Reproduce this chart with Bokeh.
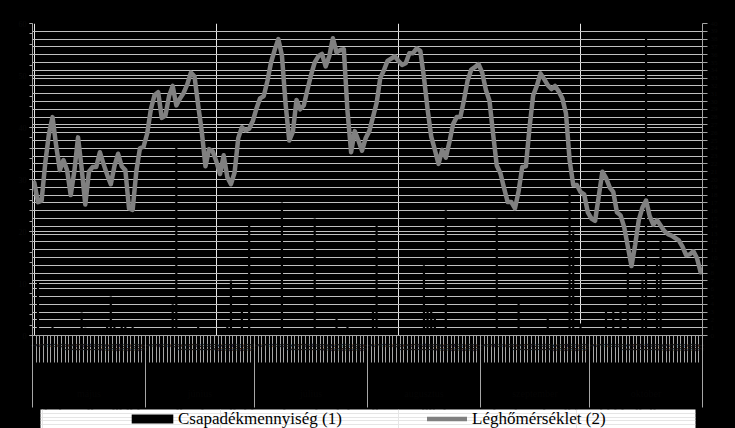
import math
from bokeh.plotting import figure
from bokeh.layouts import column
from bokeh.models import (LinearAxis, Range1d, FixedTicker, Grid, Legend, LegendItem,
                          ColumnDataSource)
from bokeh.embed import file_html
from bokeh.resources import INLINE

# ---- data -------------------------------------------------------------
month_names = ["május", "június", "július", "augusztus", "szeptember", "október"]
month_days = [31, 30, 31, 31, 30, 31]

# daily air temperature (°C), 1 May .. 31 Oct
temperature = [
    19.6, 17.1, 17.3, 22.1, 25.8, 28.0, 24.3, 21.2, 22.5, 21.2,
    18.0, 21.1, 25.4, 21.4, 16.8, 21.0, 21.6, 21.6, 23.5, 22.0,
    20.6, 19.4, 21.7, 23.3, 21.7, 21.2, 16.3, 16.1, 21.0, 24.0,
    24.2, 25.9, 29.0, 30.8, 31.2, 27.9, 28.2, 30.7, 32.0, 29.5,
    30.4, 31.1, 32.2, 33.7, 33.2, 29.5, 26.1, 21.7, 23.9, 23.6,
    22.3, 20.7, 23.1, 20.3, 19.4, 20.9, 25.3, 26.7, 26.3, 26.5,
    27.5, 29.1, 30.4, 30.7, 32.6, 35.0, 36.6, 38.0, 35.9, 29.7,
    25.0, 26.1, 30.2, 29.0, 29.5, 31.5, 33.4, 35.0, 35.8, 36.1,
    34.5, 35.8, 38.1, 36.3, 36.6, 36.7, 28.8, 23.5, 26.2, 25.0,
    23.7, 25.3, 26.2, 28.0, 29.8, 33.0, 34.0, 35.2, 35.5, 35.8,
    35.2, 34.7, 34.9, 36.2, 36.2, 36.8, 36.5, 33.1, 29.0, 25.5,
    23.8, 22.0, 23.8, 22.8, 24.8, 27.1, 28.0, 28.0, 30.2, 32.7,
    34.1, 34.4, 34.8, 33.7, 31.5, 30.1, 25.8, 21.8, 20.8, 18.9,
    17.1, 17.1, 16.3, 18.5, 21.6, 21.7, 26.7, 30.8, 32.0, 33.6,
    32.9, 32.1, 31.6, 32.0, 31.3, 30.4, 28.5, 22.5, 19.3, 19.3,
    18.4, 18.1, 15.8, 15.0, 14.7, 17.8, 21.0, 20.2, 19.0, 18.4,
    15.8, 15.4, 13.9, 11.4, 8.9, 11.6, 14.8, 16.4, 17.3, 15.3,
    14.2, 14.8, 14.1, 13.4, 13.0, 12.8, 12.5, 12.2, 11.4, 10.3,
    10.4, 10.8, 9.9, 8.1,
]

# daily precipitation (mm): day index (0 = 1 May) and amount
precip_day = [1, 5, 13, 14, 20, 21, 22, 24, 25, 27, 38, 39, 45, 53, 54, 57, 59,
              68, 77, 83, 86, 93, 94, 107, 108, 109, 110, 113, 127, 133, 141,
              147, 148, 150, 157, 159, 161, 163, 167, 168, 171, 172]
precip_mm = [10.2, 2.5, 4.4, 1.5, 2.5, 7.5, 2.5, 2.3, 1.9, 1.7, 6.0, 36.6, 2.9,
             2.9, 10.6, 5.4, 21.2, 25.6, 22.5, 3.9, 2.9, 5.4, 21.2, 13.5, 5.8,
             4.8, 3.3, 24.1, 22.5, 6.2, 4.2, 27.9, 20.0, 2.3, 5.8, 4.8, 5.2,
             13.1, 10.6, 57.8, 14.4, 18.3]

series_names = ["Csapadékmennyiség (1)", "Léghőmérséklet (2)"]

precip_ticks = list(range(0, 61, 10))
precip_minor = list(range(0, 61, 2))
temp_ticks = list(range(0, 41))

# ---- derived category helpers ------------------------------------------
n_days = sum(month_days)
day_index = list(range(n_days))
day_labels = {}
bounds = [-0.5]
centers = []
k = 0
for m in month_days:
    for d in range(1, m + 1):
        day_labels[k] = str(d)
        k += 1
    centers.append((bounds[-1] + k - 0.5) / 2)
    bounds.append(k - 0.5)
month_labels = {c: nm for c, nm in zip(centers, month_names)}

bar_src = ColumnDataSource(dict(day=precip_day, mm=precip_mm))
temp_src = ColumnDataSource(dict(day=day_index, t=temperature))

GRID = "#c0c0c0"
AX = "#a6a6a6"
BAR = "black"
LINE = "#808080"
lab_font = "Liberation Serif"

p = figure(width=735, height=409, output_backend="svg", toolbar_location=None,
           x_range=Range1d(-0.5, n_days - 0.5), y_range=Range1d(0, 60),
           x_axis_location=None, y_axis_location=None,
           min_border_left=32, min_border_right=33, min_border_top=23,
           min_border_bottom=74,
           background_fill_color="black", border_fill_color="black")
p.outline_line_color = None
p.extra_y_ranges = {"temp": Range1d(0, 40)}

p.add_layout(Grid(dimension=1, ticker=FixedTicker(ticks=precip_ticks),
                  grid_line_color=GRID, grid_line_width=1))
p.add_layout(Grid(dimension=1, y_range_name="temp",
                  ticker=FixedTicker(ticks=temp_ticks),
                  grid_line_color=GRID, grid_line_width=1))

left = LinearAxis(ticker=FixedTicker(ticks=precip_ticks, minor_ticks=precip_minor),
                  axis_line_color=AX, major_tick_line_color=AX, minor_tick_line_color=AX,
                  major_tick_out=3, major_tick_in=0, minor_tick_out=3, minor_tick_in=0,
                  major_label_text_color="#0a0a0a", major_label_text_font=lab_font,
                  major_label_text_font_size="8px", major_label_standoff=3)
p.add_layout(left, "left")

right = LinearAxis(y_range_name="temp", ticker=FixedTicker(ticks=temp_ticks),
                   axis_line_color=AX, major_tick_line_color=AX,
                   major_tick_out=5, major_tick_in=0, minor_tick_out=0, minor_tick_in=0,
                   major_label_text_color="#0a0a0a", major_label_text_font=lab_font,
                   major_label_text_font_size="7px", major_label_standoff=3)
p.add_layout(right, "right")

# day ticks + day numbers
xa = LinearAxis(ticker=FixedTicker(ticks=day_index, minor_ticks=[i - 0.5 for i in range(n_days + 1)]),
                axis_line_color=AX, major_tick_line_color=None, minor_tick_line_color=AX,
                major_tick_out=0, major_tick_in=0, minor_tick_out=27, minor_tick_in=0,
                major_label_overrides=day_labels, major_label_orientation=math.pi / 2,
                major_label_standoff=-19, major_label_text_font=lab_font,
                major_label_text_font_size="8px", major_label_text_color="#151515")
p.add_layout(xa, "below")

# month separators + month names
xb = LinearAxis(ticker=FixedTicker(ticks=centers, minor_ticks=bounds),
                axis_line_color=None, major_tick_line_color=None, minor_tick_line_color=AX,
                major_tick_out=0, major_tick_in=0, minor_tick_in=12, minor_tick_out=53,
                major_label_overrides=month_labels, major_label_standoff=-20,
                major_label_text_font=lab_font, major_label_text_font_size="10px",
                major_label_text_color="#050505")
p.add_layout(xb, "below")

bars = p.vbar(x="day", top="mm", bottom=0, width=0.6, source=bar_src,
              fill_color=BAR, line_color=None)
temp_line = p.line(x="day", y="t", source=temp_src, y_range_name="temp",
                   line_color=LINE, line_width=4.5,
                   line_join="round", line_cap="round")

# ---- legend strip (white box under the chart) ----------------------------
# same series, drawn outside this strip's visible range: only their keys show
lg = figure(width=720, height=19, output_backend="svg", toolbar_location=None,
            x_range=Range1d(-0.5, n_days - 0.5), y_range=Range1d(-20, -19),
            x_axis_location=None, y_axis_location=None,
            min_border_left=32, min_border_right=33, min_border_top=0,
            min_border_bottom=0,
            background_fill_color="white", border_fill_color="black",
            margin=(0, 0, 0, 8))
lg.outline_line_color = None
key_bar = lg.vbar(x="day", top="mm", bottom=0, width=0.6, source=bar_src,
                  fill_color=BAR, line_color=None)
key_line = lg.line(x="day", y="t", source=temp_src,
                   line_color=LINE, line_width=4.5, line_cap="round")

common = dict(orientation="horizontal", padding=0, glyph_height=11,
              background_fill_alpha=0, border_line_color=None,
              label_text_font=lab_font, label_text_font_size="17px",
              label_text_color="black", label_height=18, location="left")
leg1 = Legend(items=[LegendItem(label=series_names[0], renderers=[key_bar])],
              margin=86, glyph_width=52, label_standoff=0, **common)
leg2 = Legend(items=[LegendItem(label=series_names[1], renderers=[key_line])],
              margin=387, glyph_width=40, label_standoff=5, **common)
lg.add_layout(leg1, "center")
lg.add_layout(leg2, "center")

layout = column(p, lg, spacing=0)

html = file_html(layout, INLINE)
html = html.replace("</head>", "<style>html,body{background:#000;}</style></head>", 1)
open("out.html", "w").write(html)
